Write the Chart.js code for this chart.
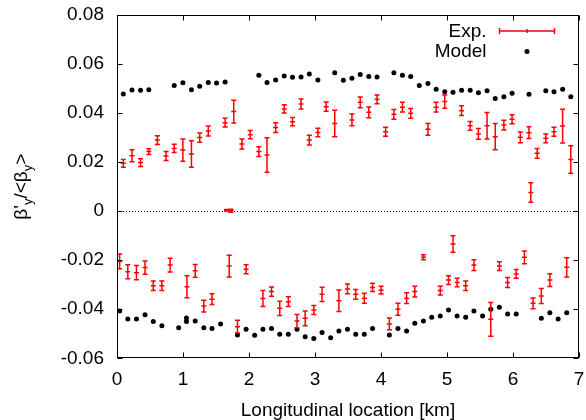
<!DOCTYPE html>
<html>
<head>
<meta charset="utf-8">
<script src="https://cdn.jsdelivr.net/npm/chart.js@4.4.1/dist/chart.umd.min.js"></script>
<style>
  html, body { margin: 0; padding: 0; background: #fff; }
  canvas { display: block; }
</style>
</head>
<body>
<canvas id="chart" width="586" height="420"></canvas>
<script>
// measured points (km, beta'/<beta>) with error half-width
const expX = [
  0.096, 0.227, 0.357, 0.482, 0.612, 0.743, 0.867, 0.998, 1.128, 1.253, 1.383, 1.638, 1.769, 1.893, 2.018,
  2.149, 2.273, 2.404, 2.534, 2.659, 2.789, 2.914, 3.044, 3.169, 3.299, 3.560, 3.685, 3.815, 3.940, 4.070,
  4.195, 4.325, 4.450, 4.711, 4.836, 4.966, 5.221, 5.351, 5.476, 5.607, 5.731, 5.862, 5.986, 6.111, 6.242,
  6.270, 6.366, 6.497, 6.621, 6.752, 6.876,
  1.660, 1.725,
  0.040, 0.164, 0.295, 0.425, 0.550, 0.680, 0.805, 1.060, 1.185, 1.315, 1.440, 1.700, 1.825, 1.956, 2.211,
  2.341, 2.466, 2.596, 2.727, 2.851, 2.982, 3.107, 3.362, 3.492, 3.617, 3.747, 3.872, 4.002, 4.127, 4.257,
  4.388, 4.512, 4.643, 4.898, 5.023, 5.091, 5.153, 5.283, 5.408, 5.663, 5.794, 5.918, 6.049, 6.173, 6.304,
  6.429, 6.559, 6.814
];
const expY = [
  0.0195, 0.0226, 0.0198, 0.0243, 0.0290, 0.0225, 0.0256, 0.0249, 0.0233, 0.0300, 0.0327, 0.0361, 0.0406, 0.0274, 0.0312,
  0.0243, 0.0229, 0.0341, 0.0417, 0.0365, 0.0437, 0.0290, 0.0321, 0.0426, 0.0358, 0.0372, 0.0444, 0.0403, 0.0456, 0.0324,
  0.0395, 0.0424, 0.0399, 0.0334, 0.0424, 0.0447, 0.0410, 0.0348, 0.0315, 0.0348, 0.0304, 0.0351, 0.0375, 0.0301, 0.0320,
  0.0076, 0.0236, 0.0297, 0.0324, 0.0347, 0.0211,
  0.0004, 0.0002,
  -0.0205, -0.0247, -0.0251, -0.0230, -0.0304, -0.0304, -0.0220, -0.0308, -0.0243, -0.0387, -0.0359, -0.0224, -0.0471, -0.0237, -0.0356,
  -0.0328, -0.0396, -0.0369, -0.0448, -0.0437, -0.0403, -0.0339, -0.0365, -0.0317, -0.0339, -0.0355, -0.0311, -0.0322, -0.0460, -0.0400,
  -0.0355, -0.0328, -0.0188, -0.0324, -0.0281, -0.0134, -0.0291, -0.0304, -0.0220, -0.0441, -0.0224, -0.0291, -0.0256, -0.0188, -0.0376,
  -0.0346, -0.0281, -0.0229
];
const expErr = [
  0.0016, 0.0024, 0.0016, 0.0012, 0.0018, 0.0018, 0.0017, 0.0045, 0.0054, 0.0019, 0.0020, 0.0018, 0.0046, 0.0020, 0.0017,
  0.0020, 0.0070, 0.0020, 0.0017, 0.0017, 0.0020, 0.0020, 0.0017, 0.0019, 0.0054, 0.0024, 0.0022, 0.0022, 0.0018, 0.0018,
  0.0020, 0.0020, 0.0020, 0.0024, 0.0020, 0.0027, 0.0020, 0.0018, 0.0022, 0.0054, 0.0054, 0.0020, 0.0018, 0.0022, 0.0024,
  0.0040, 0.0020, 0.0018, 0.0018, 0.0069, 0.0056,
  0.0003, 0.0006,
  0.0030, 0.0029, 0.0029, 0.0027, 0.0019, 0.0019, 0.0028, 0.0045, 0.0026, 0.0024, 0.0022, 0.0044, 0.0026, 0.0018, 0.0033,
  0.0019, 0.0029, 0.0020, 0.0027, 0.0030, 0.0018, 0.0029, 0.0044, 0.0020, 0.0020, 0.0020, 0.0017, 0.0016, 0.0024, 0.0024,
  0.0022, 0.0022, 0.0010, 0.0018, 0.0018, 0.0034, 0.0017, 0.0019, 0.0022, 0.0069, 0.0018, 0.0020, 0.0018, 0.0026, 0.0022,
  0.0031, 0.0026, 0.0039
];

// model points
const modelX = [
  0.096, 0.227, 0.357, 0.482, 0.867, 0.998, 1.128, 1.253, 1.383, 1.508, 1.638, 2.149, 2.273, 2.404, 2.534,
  2.659, 2.789, 2.914, 3.044, 3.299, 3.430, 3.560, 3.685, 3.815, 3.940, 4.195, 4.325, 4.450, 4.580, 4.711,
  4.836, 4.966, 5.091, 5.221, 5.351, 5.476, 5.607, 5.731, 5.862, 5.986, 6.242, 6.497, 6.621, 6.752, 6.876,
  0.040, 0.164, 0.295, 0.425, 0.550, 0.680, 0.935, 1.053, 1.053, 1.185, 1.315, 1.440, 1.570, 1.825, 1.956,
  2.086, 2.211, 2.341, 2.466, 2.596, 2.727, 2.851, 2.982, 3.107, 3.237, 3.362, 3.492, 3.617, 3.747, 3.872,
  4.127, 4.257, 4.388, 4.512, 4.643, 4.768, 4.898, 5.023, 5.153, 5.283, 5.408, 5.539, 5.663, 5.794, 5.918,
  6.049, 6.429, 6.559, 6.684, 6.814
];
const modelY = [
  0.0478, 0.0494, 0.0493, 0.0495, 0.0513, 0.0524, 0.0495, 0.0509, 0.0525, 0.0523, 0.0527, 0.0554, 0.0525, 0.0535, 0.0551,
  0.0546, 0.0547, 0.0559, 0.0535, 0.0565, 0.0534, 0.0542, 0.0557, 0.0549, 0.0547, 0.0564, 0.0554, 0.0549, 0.0513, 0.0521,
  0.0497, 0.0487, 0.0485, 0.0493, 0.0493, 0.0483, 0.0491, 0.0459, 0.0467, 0.0481, 0.0477, 0.0491, 0.0487, 0.0497, 0.0467,
  -0.0407, -0.0440, -0.0440, -0.0422, -0.0450, -0.0467, -0.0475, -0.0436, -0.0450, -0.0448, -0.0475, -0.0478, -0.0460, -0.0505, -0.0482,
  -0.0506, -0.0482, -0.0478, -0.0502, -0.0502, -0.0482, -0.0512, -0.0519, -0.0495, -0.0516, -0.0489, -0.0482, -0.0502, -0.0502, -0.0478,
  -0.0505, -0.0478, -0.0489, -0.0457, -0.0448, -0.0433, -0.0427, -0.0403, -0.0427, -0.0433, -0.0407, -0.0427, -0.0400, -0.0392, -0.0419,
  -0.0419, -0.0437, -0.0414, -0.0440, -0.0414
];

const xTicks = [0, 1, 2, 3, 4, 5, 6, 7];
const xTickLabels = ['0', '1', '2', '3', '4', '5', '6', '7'];
const yTicks = [-0.06, -0.04, -0.02, 0, 0.02, 0.04, 0.06, 0.08];
const yTickLabels = ['-0.06', '-0.04', '-0.02', '0', '0.02', '0.04', '0.06', '0.08'];

const FONT = '"Liberation Sans", Arial, Helvetica, sans-serif';
const RED = '#ff0000';

// error bars for datasets that carry an errors array
const errorBarPlugin = {
  id: 'errorBars',
  afterDatasetsDraw(chart) {
    const ctx = chart.ctx;
    const ys = chart.scales.y;
    chart.data.datasets.forEach((ds, di) => {
      if (!ds.errors) return;
      const meta = chart.getDatasetMeta(di);
      ctx.save();
      ctx.strokeStyle = ds.borderColor;
      ctx.lineWidth = 1.5;
      meta.data.forEach((pt, i) => {
        const v = ds.data[i].y;
        const e = ds.errors[i];
        const top = ys.getPixelForValue(v + e);
        const bot = ys.getPixelForValue(v - e);
        ctx.beginPath();
        ctx.moveTo(pt.x, top); ctx.lineTo(pt.x, bot);
        ctx.moveTo(pt.x - 2.5, top); ctx.lineTo(pt.x + 2.5, top);
        ctx.moveTo(pt.x - 2.5, bot); ctx.lineTo(pt.x + 2.5, bot);
        ctx.stroke();
      });
      ctx.restore();
    });
  }
};

// gnuplot style frame, inward ticks, zero line, legend and y title
const framePlugin = {
  id: 'frame',
  beforeDatasetsDraw(chart) {
    const {ctx, chartArea: a, scales: {y}} = chart;
    ctx.save();
    ctx.strokeStyle = '#000';
    ctx.lineWidth = 1;
    ctx.setLineDash([1, 2]);
    const y0 = Math.round(y.getPixelForValue(0)) + 0.5;
    ctx.beginPath();
    ctx.moveTo(a.left, y0); ctx.lineTo(a.right, y0);
    ctx.stroke();
    ctx.restore();
  },
  afterDraw(chart) {
    const {ctx, chartArea: a, scales: {x, y}} = chart;
    ctx.save();
    ctx.strokeStyle = '#000';
    ctx.lineWidth = 1;
    const L = Math.round(a.left) + 0.5, R = Math.round(a.right) - 0.5;
    const T = Math.round(a.top) + 0.5, B = Math.round(a.bottom) - 0.5;
    ctx.strokeRect(L, T, R - L, B - T);
    ctx.beginPath();
    xTicks.forEach(v => {
      const px = Math.round(x.getPixelForValue(v)) + 0.5;
      ctx.moveTo(px, B); ctx.lineTo(px, B - 5);
      ctx.moveTo(px, T); ctx.lineTo(px, T + 5);
    });
    yTicks.forEach(v => {
      const py = Math.round(y.getPixelForValue(v)) + 0.5;
      ctx.moveTo(L, py); ctx.lineTo(L + 5, py);
      ctx.moveTo(R, py); ctx.lineTo(R - 5, py);
    });
    ctx.stroke();

    // legend
    const ds = chart.data.datasets;
    ctx.fillStyle = '#000';
    ctx.font = '19px ' + FONT;
    ctx.textAlign = 'right';
    ctx.textBaseline = 'middle';
    ctx.fillText(ds[0].label, 486.5, 32);
    ctx.fillText(ds[1].label, 486.5, 52);
    ctx.strokeStyle = RED;
    ctx.lineWidth = 1.5;
    ctx.beginPath();
    ctx.moveTo(499.5, 31); ctx.lineTo(554.5, 31);
    ctx.moveTo(499.5, 28); ctx.lineTo(499.5, 34);
    ctx.moveTo(554.5, 28); ctx.lineTo(554.5, 34);
    ctx.moveTo(527, 29); ctx.lineTo(527, 33);
    ctx.stroke();
    ctx.fillStyle = '#000';
    ctx.beginPath();
    ctx.arc(527, 51.5, 2.5, 0, Math.PI * 2);
    ctx.fill();

    // rotated y title with subscripts
    const parts = [["β'", 19, 0], ['y', 13, 5], ['/<β', 19, 0], ['y', 13, 5], ['>', 19, 0]];
    let total = 0;
    parts.forEach(p => { ctx.font = p[1] + 'px ' + FONT; total += ctx.measureText(p[0]).width; });
    ctx.translate(27, (a.top + a.bottom) / 2 + total / 2);
    ctx.rotate(-Math.PI / 2);
    ctx.textAlign = 'left';
    ctx.textBaseline = 'alphabetic';
    let cx = 0;
    parts.forEach(p => {
      ctx.font = p[1] + 'px ' + FONT;
      ctx.fillText(p[0], cx, p[2]);
      cx += ctx.measureText(p[0]).width;
    });
    ctx.restore();
  }
};

const ctx = document.getElementById('chart').getContext('2d');
new Chart(ctx, {
  type: 'scatter',
  data: {
    datasets: [{
      label: 'Exp.',
      data: expX.map((v, i) => ({x: v, y: expY[i]})),
      errors: expErr,
      pointStyle: 'line',
      pointRadius: 2.5,
      borderColor: RED,
      backgroundColor: RED,
      borderWidth: 1.5
    }, {
      label: 'Model',
      data: modelX.map((v, i) => ({x: v, y: modelY[i]})),
      pointStyle: 'circle',
      pointRadius: 2.5,
      borderWidth: 0,
      backgroundColor: '#000',
      borderColor: '#000'
    }]
  },
  options: {
    responsive: false,
    animation: false,
    devicePixelRatio: 1,
    layout: {padding: {top: 15, right: 7, left: 0, bottom: 0}},
    plugins: {legend: {display: false}, tooltip: {enabled: false}},
    scales: {
      x: {
        type: 'linear',
        min: 0, max: 7,
        afterBuildTicks: s => { s.ticks = xTicks.map(v => ({value: v})); },
        afterFit: s => { s.height = 61.7; s.paddingLeft = 0; s.paddingRight = 0; },
        grid: {display: false, drawTicks: false},
        border: {display: false},
        ticks: {
          color: '#000', padding: 10, maxRotation: 0,
          font: {family: FONT, size: 19},
          callback: (v, i) => xTickLabels[i]
        },
        title: {
          display: true, text: 'Longitudinal location [km]', color: '#000',
          padding: {top: 0, bottom: 0},
          font: {family: FONT, size: 19, lineHeight: 1}
        }
      },
      y: {
        type: 'linear',
        min: -0.06, max: 0.08,
        afterBuildTicks: s => { s.ticks = yTicks.map(v => ({value: v})); },
        afterFit: s => { s.width = 117; s.paddingTop = 0; s.paddingBottom = 0; },
        grid: {display: false, drawTicks: false},
        border: {display: false},
        ticks: {
          color: '#000', padding: 13,
          font: {family: FONT, size: 19},
          callback: (v, i) => yTickLabels[i]
        }
      }
    }
  },
  plugins: [errorBarPlugin, framePlugin]
});
</script>
</body>
</html>
